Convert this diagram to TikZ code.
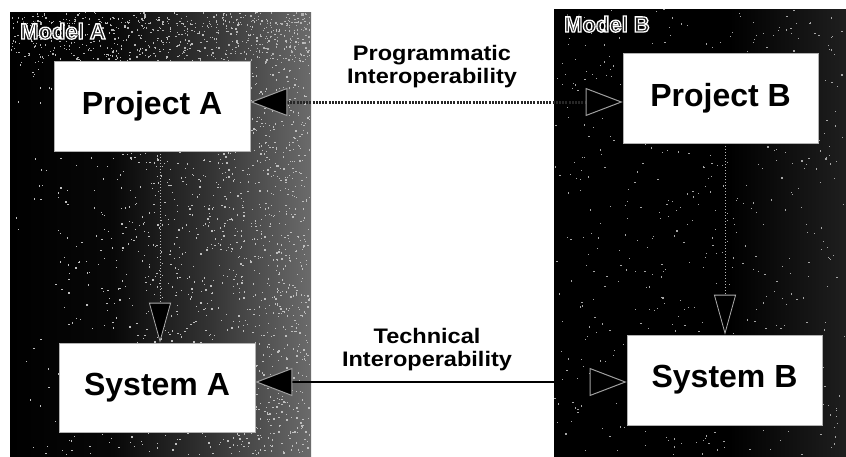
\documentclass[tikz,border=0pt]{standalone}
\usepackage{fontspec}
\setmainfont{Liberation Sans}
\newfontfamily\lblfont[FakeStretch=1.12]{Liberation Sans}
\usetikzlibrary{arrows.meta}
\newcommand\hollowtext[1]{\special{pdf:literal direct 2 Tr 1.3 w 1 1 1 RG 0.12 0.12 0.12 rg}#1\special{pdf:literal direct 0 Tr}}
\pgfdeclarehorizontalshading{panelAshade}{100bp}{color(0bp)=(black); color(25bp)=(black); color(42bp)=(black!97); color(58bp)=(black!80); color(75bp)=(black!58); color(100bp)=(black!58)}
\pgfdeclarehorizontalshading{panelBshade}{100bp}{color(0bp)=(black); color(25bp)=(black); color(55bp)=(black); color(75bp)=(black!88); color(100bp)=(black!88)}
\tikzset{
  box/.style={fill=white, draw=gray!60, line width=0.6pt, inner sep=0pt, font=\fontsize{32}{36}\selectfont\bfseries},
  lbl/.style={inner sep=0pt, align=center, anchor=north, font=\lblfont\fontsize{21}{23}\selectfont\bfseries},
  modellbl/.style={inner sep=0pt, anchor=base west, font=\fontsize{22}{24}\selectfont\bfseries},
  bigtip/.tip={Triangle[length=37pt, width=28pt, fill=black, color=gray!75, line width=1pt]},
  vtip/.tip={Triangle[length=40pt, width=22pt, fill=black, color=gray!65, line width=0.8pt]},
  progline/.style={draw=black!85, line width=3pt, dash pattern=on 2pt off 1.2pt, bigtip-bigtip},
  techline/.style={draw=black, line width=2pt, bigtip-bigtip},
  vline/.style={draw=gray!55, line width=1pt, dotted, -vtip}
}
\begin{document}
\begin{tikzpicture}[x=1pt, y=-1pt]
\useasboundingbox (0,0) rectangle (846,456);
\fill[white] (0,0) rectangle (846,456);
% panels
\fill[shading=panelAshade] (10,12) rectangle (311,456);
\fill[shading=panelBshade] (554,9) rectangle (846,456);
% speckle texture
\pgfmathsetseed{17}
\foreach \i in {1,...,1800} {
  \pgfmathsetmacro\xx{10+299*sqrt(rnd)}
  \pgfmathsetmacro\yy{12+442*rnd}
  \fill[white!75!black] (\xx,\yy) rectangle ++(1.3,1.3);
}
\foreach \i in {1,...,500} {
  \pgfmathsetmacro\xx{10+299*rnd}
  \pgfmathsetmacro\yy{12+50*rnd}
  \fill[white!70!black] (\xx,\yy) rectangle ++(1.3,1.3);
}
\foreach \i in {1,...,550} {
  \pgfmathsetmacro\xx{554+290*rnd}
  \pgfmathsetmacro\yy{9+445*rnd}
  \fill[white!65!black] (\xx,\yy) rectangle ++(1.2,1.2);
}
% model labels
\node[modellbl] (mA) at (20,39) {\hollowtext{Model A}};
\node[modellbl] (mB) at (564,32) {\hollowtext{Model B}};
% boxes
\node[box, minimum width=196pt, minimum height=90pt] (pA) at (152,106) {Project A};
\node[box, minimum width=195pt, minimum height=90pt] (pB) at (720.5,98) {Project B};
\node[box, minimum width=196pt, minimum height=89pt] (sA) at (157,387.5) {System A};
\node[box, minimum width=195pt, minimum height=90pt] (sB) at (724.5,380) {System B};
% guide coordinates
\coordinate (progY) at (0,102);
\coordinate (techY) at (0,382);
\coordinate (vAX) at (160,0);
\coordinate (vBX) at (725,0);
% vertical arrows
\draw[vline] (vAX |- pA.south) -- (vAX |- sA.north);
\draw[vline] (vBX |- pB.south) -- (vBX |- sB.north);
% horizontal arrows
\draw[progline] (pA.east |- progY) -- (pB.west |- progY);
\draw[techline] (sA.east |- techY) -- (sB.west |- techY);
% labels
\node[lbl] (progL) at (432,45) {Programmatic\\Interoperability};
\node[lbl] (techL) at (427,328) {Technical\\Interoperability};
\end{tikzpicture}
\end{document}
